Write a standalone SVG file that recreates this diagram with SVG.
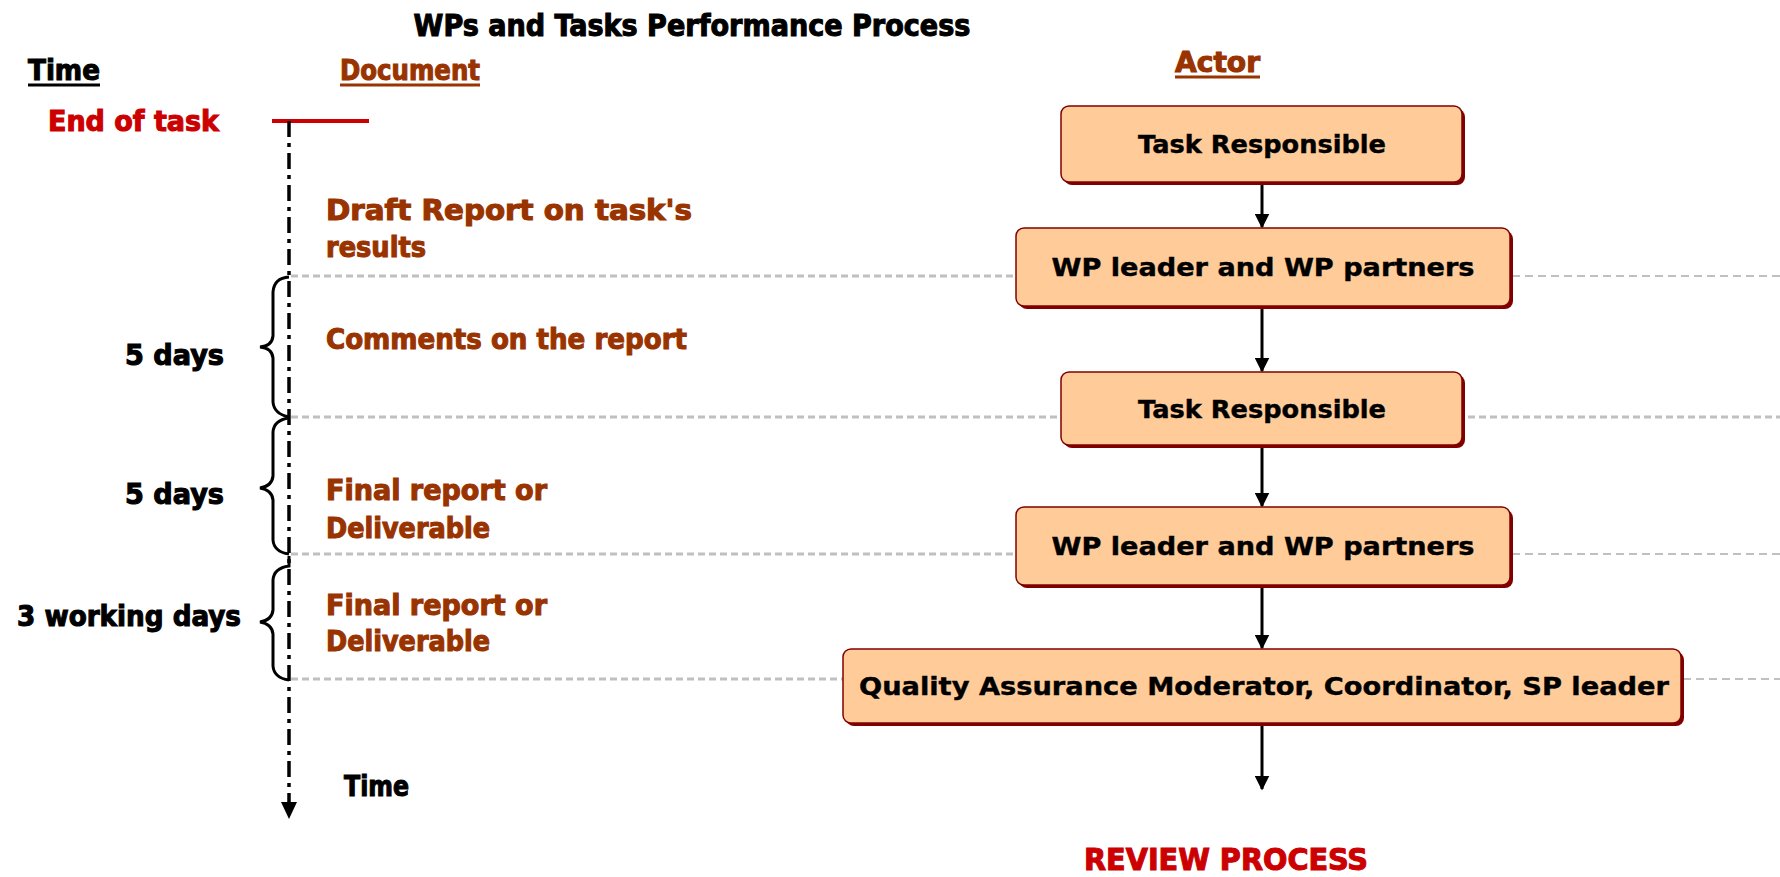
<svg xmlns="http://www.w3.org/2000/svg" width="1780" height="877" viewBox="0 0 1780 877">
  <style>
    .heavy { font-family: "DejaVu Sans Condensed", "DejaVu Sans", sans-serif; font-weight: bold; stroke-width: 1; }
    .boxtxt { font-family: "DejaVu Sans", "Liberation Sans", sans-serif; font-weight: bold; font-size: 24px; fill: #000; stroke: #000; stroke-width: 0.4; }
    .brown { fill: #993300; stroke: #993300; }
    .red { fill: #CC0000; stroke: #CC0000; }
    .black { fill: #000; stroke: #000; }
    .box { fill: #FFCC99; stroke: #800000; stroke-width: 1.5; }
    .shadow { fill: #800000; }
    .guide-l { stroke: #C0C0C0; stroke-width: 3; stroke-dasharray: 7 4; fill: none; }
    .guide-r { stroke: #C0C0C0; stroke-width: 2; stroke-dasharray: 8 5; fill: none; }
    .brace { stroke: #000; stroke-width: 3; fill: none; }
    .flow { stroke: #000; stroke-width: 3; fill: none; }
  </style>
  <defs>
    <marker id="arrow" viewBox="0 0 10 10" refX="9" refY="5" markerWidth="5" markerHeight="5" orient="auto" markerUnits="strokeWidth">
      <path d="M0,0 L10,5 L0,10 z" fill="#000"/>
    </marker>
  </defs>

  <rect width="1780" height="877" fill="#fff"/>

  <!-- headings -->
  <g id="headings">
    <text class="heavy black" x="692" y="36" font-size="30" text-anchor="middle" textLength="557" lengthAdjust="spacingAndGlyphs">WPs and Tasks Performance Process</text>
    <text class="heavy black" x="28" y="80" font-size="28" textLength="72" lengthAdjust="spacingAndGlyphs">Time</text>
    <line x1="28" y1="85" x2="100" y2="85" stroke="#000" stroke-width="3"/>
    <text class="heavy brown" x="340" y="80" font-size="28" textLength="140" lengthAdjust="spacingAndGlyphs">Document</text>
    <line x1="340" y1="85" x2="480" y2="85" stroke="#993300" stroke-width="3"/>
    <text class="heavy brown" x="1175" y="72" font-size="28" textLength="85" lengthAdjust="spacingAndGlyphs">Actor</text>
    <line x1="1175" y1="77" x2="1260" y2="77" stroke="#993300" stroke-width="3"/>
  </g>

  <!-- horizontal guide lines per milestone -->
  <g id="guides">
    <line class="guide-l" x1="291" y1="276" x2="1016" y2="276"/>
    <line class="guide-r" x1="1512" y1="276" x2="1780" y2="276"/>
    <line class="guide-l" x1="291" y1="417" x2="1780" y2="417"/>
    <line class="guide-l" x1="291" y1="554" x2="1016" y2="554"/>
    <line class="guide-r" x1="1512" y1="554" x2="1780" y2="554"/>
    <line class="guide-l" x1="291" y1="679" x2="843" y2="679"/>
    <line class="guide-r" x1="1683" y1="679" x2="1780" y2="679"/>
  </g>

  <!-- time axis -->
  <g id="timeline">
    <text class="heavy red" x="48" y="131" font-size="28" textLength="171" lengthAdjust="spacingAndGlyphs">End of task</text>
    <line x1="272" y1="121" x2="369" y2="121" stroke="#CC0000" stroke-width="4"/>
    <line x1="289" y1="121" x2="289" y2="805" stroke="#000" stroke-width="3.5" stroke-dasharray="16 6 4 6"/>
    <path d="M281,802 L297,802 L289,819 z" fill="#000"/>
    <text class="heavy black" x="344" y="796" font-size="28" textLength="65" lengthAdjust="spacingAndGlyphs">Time</text>
  </g>

  <!-- duration braces -->
  <g id="durations">
    <path class="brace" d="M289,277 Q274,278 273,292 L273,336 Q272,346 260,347 Q272,348 273,358 L273,402 Q274,414 289,417"/>
    <path class="brace" d="M289,418 Q274,420 273,432 L273,476 Q272,486 260,488 Q272,490 273,500 L273,540 Q274,552 289,554"/>
    <path class="brace" d="M289,556 L289,566 Q274,568 273,580 L273,610 Q272,620 260,622 Q272,624 273,634 L273,666 Q274,678 289,680"/>
    <text class="heavy black" x="125" y="365" font-size="28" textLength="99" lengthAdjust="spacingAndGlyphs">5 days</text>
    <text class="heavy black" x="125" y="504" font-size="28" textLength="99" lengthAdjust="spacingAndGlyphs">5 days</text>
    <text class="heavy black" x="17" y="626" font-size="28" textLength="224" lengthAdjust="spacingAndGlyphs">3 working days</text>
  </g>

  <!-- documents produced at each step -->
  <g id="documents">
    <text class="heavy brown" x="326" y="220" font-size="28" textLength="366" lengthAdjust="spacingAndGlyphs">Draft Report on task's</text>
    <text class="heavy brown" x="326" y="257" font-size="28" textLength="100" lengthAdjust="spacingAndGlyphs">results</text>
    <text class="heavy brown" x="326" y="349" font-size="29" textLength="361" lengthAdjust="spacingAndGlyphs">Comments on the report</text>
    <text class="heavy brown" x="326" y="500" font-size="28" textLength="221" lengthAdjust="spacingAndGlyphs">Final report or</text>
    <text class="heavy brown" x="326" y="538" font-size="28" textLength="164" lengthAdjust="spacingAndGlyphs">Deliverable</text>
    <text class="heavy brown" x="326" y="615" font-size="28" textLength="221" lengthAdjust="spacingAndGlyphs">Final report or</text>
    <text class="heavy brown" x="326" y="651" font-size="28" textLength="164" lengthAdjust="spacingAndGlyphs">Deliverable</text>
  </g>

  <!-- flow connectors -->
  <g id="connectors">
    <line class="flow" x1="1262" y1="184" x2="1262" y2="227" marker-end="url(#arrow)"/>
    <line class="flow" x1="1262" y1="309" x2="1262" y2="371" marker-end="url(#arrow)"/>
    <line class="flow" x1="1262" y1="448" x2="1262" y2="506" marker-end="url(#arrow)"/>
    <line class="flow" x1="1262" y1="588" x2="1262" y2="648" marker-end="url(#arrow)"/>
    <line class="flow" x1="1262" y1="726" x2="1262" y2="789" marker-end="url(#arrow)"/>
  </g>

  <!-- actors -->
  <g id="actor-task-1">
    <rect class="shadow" x="1064" y="109" width="401" height="76" rx="8"/>
    <rect class="box" x="1061" y="106" width="401" height="76" rx="8"/>
    <text class="boxtxt" x="1262" y="153" text-anchor="middle" textLength="248" lengthAdjust="spacingAndGlyphs">Task Responsible</text>
  </g>
  <g id="actor-wp-1">
    <rect class="shadow" x="1019" y="231" width="494" height="78" rx="8"/>
    <rect class="box" x="1016" y="228" width="494" height="78" rx="8"/>
    <text class="boxtxt" x="1263" y="276" text-anchor="middle" textLength="423" lengthAdjust="spacingAndGlyphs">WP leader and WP partners</text>
  </g>
  <g id="actor-task-2">
    <rect class="shadow" x="1064" y="375" width="401" height="73" rx="8"/>
    <rect class="box" x="1061" y="372" width="401" height="73" rx="8"/>
    <text class="boxtxt" x="1262" y="418" text-anchor="middle" textLength="248" lengthAdjust="spacingAndGlyphs">Task Responsible</text>
  </g>
  <g id="actor-wp-2">
    <rect class="shadow" x="1019" y="510" width="494" height="78" rx="8"/>
    <rect class="box" x="1016" y="507" width="494" height="78" rx="8"/>
    <text class="boxtxt" x="1263" y="555" text-anchor="middle" textLength="423" lengthAdjust="spacingAndGlyphs">WP leader and WP partners</text>
  </g>
  <g id="actor-qa">
    <rect class="shadow" x="846" y="652" width="838" height="74" rx="8"/>
    <rect class="box" x="843" y="649" width="838" height="74" rx="8"/>
    <text class="boxtxt" x="1264" y="695" text-anchor="middle" textLength="810" lengthAdjust="spacingAndGlyphs">Quality Assurance Moderator, Coordinator, SP leader</text>
  </g>

  <g id="review">
    <text class="heavy red" x="1226" y="870" font-size="30" text-anchor="middle" textLength="284" lengthAdjust="spacingAndGlyphs">REVIEW PROCESS</text>
  </g>
</svg>
